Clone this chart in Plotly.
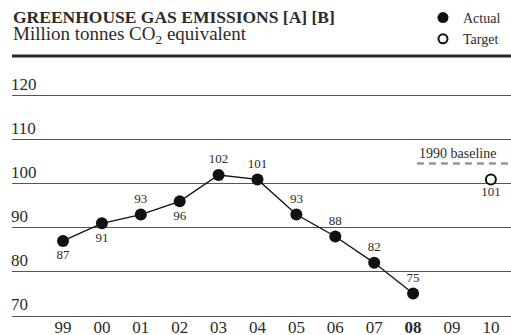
import plotly.graph_objects as go

# ---- data ----
years = ["99", "00", "01", "02", "03", "04", "05", "06", "07", "08", "09", "10"]
year_labels = ["99", "00", "01", "02", "03", "04", "05", "06", "07", "<b>08</b>", "09", "10"]
actual_years = ["99", "00", "01", "02", "03", "04", "05", "06", "07", "08"]
actual_values = [87, 91, 93, 96, 102, 101, 93, 88, 82, 75]
target_years = ["10"]
target_values = [101]
baseline_value = 104.6
y_ticks = [70, 80, 90, 100, 110, 120]

label_pos = ["bottom center", "bottom center", "top center", "bottom center",
             "top center", "top center", "top center", "top center",
             "top center", "top center"]

FONT = "Liberation Serif"
TXT = "#2b2b2b"
GRID = "#555555"

fig = go.Figure()

fig.add_trace(go.Scatter(
    x=actual_years, y=actual_values, mode="lines+markers+text",
    text=[str(v) for v in actual_values], textposition=label_pos,
    textfont=dict(family=FONT, size=13, color=TXT),
    line=dict(color="#111111", width=1.3),
    marker=dict(size=12, color="#111111"),
    showlegend=False, cliponaxis=False,
))
fig.add_trace(go.Scatter(
    x=target_years, y=target_values, mode="markers+text",
    text=[str(v) for v in target_values], textposition="bottom center",
    textfont=dict(family=FONT, size=13, color=TXT),
    marker=dict(size=10, color="white", line=dict(color="#111111", width=2)),
    showlegend=False, cliponaxis=False,
))
# legend entries
fig.add_trace(go.Scatter(x=[None], y=[None], mode="markers", name="Actual",
                         marker=dict(size=11, color="#111111")))
fig.add_trace(go.Scatter(x=[None], y=[None], mode="markers", name="Target",
                         marker=dict(size=9, color="white",
                                     line=dict(color="#111111", width=2))))

# 1990 baseline
fig.add_shape(type="line", xref="x", yref="y", x0=9.1, x1=11.6,
              y0=baseline_value, y1=baseline_value,
              line=dict(color="#999999", width=2.5, dash="7px,5px"))
fig.add_annotation(x=9.1, y=baseline_value, xref="x", yref="y",
                   text="1990 baseline", showarrow=False,
                   xanchor="left", yanchor="bottom", yshift=1,
                   font=dict(family=FONT, size=14, color=TXT))

# thick top rule
fig.add_shape(type="line", xref="paper", yref="paper", x0=0, x1=1.02,
              y0=1, y1=1, line=dict(color="#2a2a2a", width=3))

# titles
fig.add_annotation(x=0, y=1, xref="paper", yref="paper",
                   text="<b>GREENHOUSE GAS EMISSIONS [A] [B]</b>",
                   showarrow=False, xanchor="left", yanchor="middle", yshift=39.5,
                   xshift=-1, font=dict(family=FONT, size=17.5, color=TXT))
fig.add_annotation(x=0, y=1, xref="paper", yref="paper",
                   text="Million tonnes CO<sub>2</sub> equivalent",
                   showarrow=False, xanchor="left", yanchor="middle",
                   yshift=21, xshift=-1, font=dict(family=FONT, size=19, color=TXT))

fig.update_layout(
    width=511, height=335,
    margin=dict(l=12, r=0, t=56, b=19, autoexpand=False),
    paper_bgcolor="white", plot_bgcolor="white",
    font=dict(family=FONT, color=TXT),
    showlegend=True,
    legend=dict(x=0.8236, xanchor="left", y=1.2077, yanchor="top",
                font=dict(family=FONT, size=14, color=TXT),
                itemwidth=30, tracegroupgap=0, bgcolor="rgba(0,0,0,0)"),
    xaxis=dict(type="category", categoryorder="array", categoryarray=years,
               tickvals=years, ticktext=year_labels,
               range=[-1.311, 11.517], showgrid=False, zeroline=False,
               showline=True, linecolor=GRID, linewidth=1.3,
               ticks="", ticklabelstandoff=-5,
               tickfont=dict(family=FONT, size=17, color=TXT)),
    yaxis=dict(range=[69.9, 129.1], tickvals=y_ticks, showgrid=True,
               gridcolor=GRID, gridwidth=1.3, zeroline=False, showline=False,
               ticks="", ticklabelposition="inside top", ticklabelstandoff=-4,
               tickfont=dict(family=FONT, size=17, color=TXT)),
)

fig.write_html(
    "out.html",
    config={"displayModeBar": False},
    post_script="document.body.style.margin='0';document.body.style.overflow='hidden';",
)
